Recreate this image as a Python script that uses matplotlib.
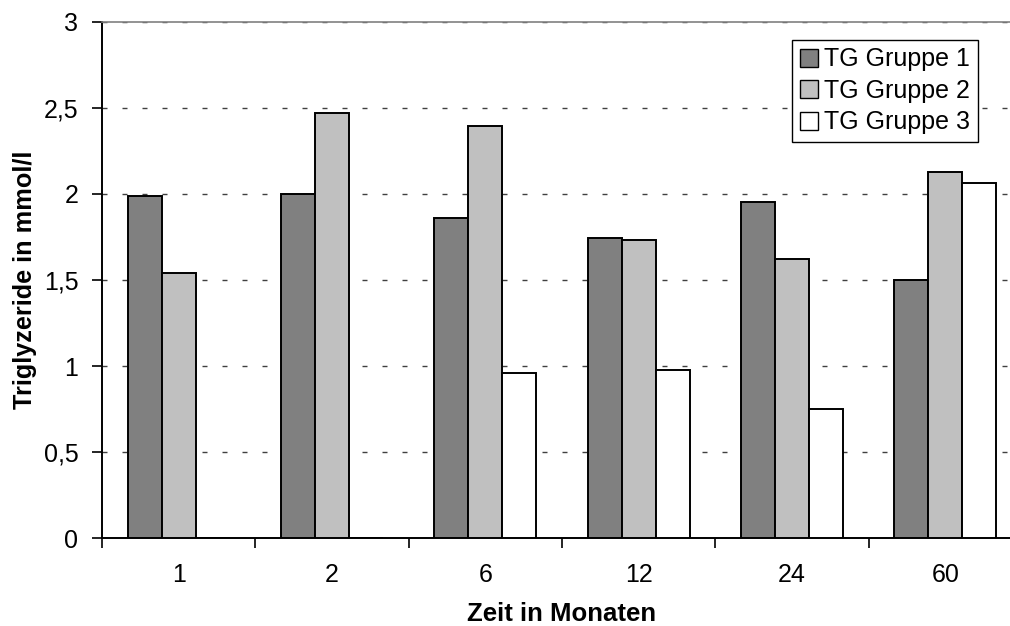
import numpy as np
import matplotlib
matplotlib.use("Agg")
import matplotlib.pyplot as plt
from matplotlib.ticker import FixedLocator, FuncFormatter

plt.rcParams['font.family'] = ['Liberation Sans', 'DejaVu Sans']

# Triglyceride per follow-up month
monate = ['1', '2', '6', '12', '24', '60']
gruppe1 = [1.99, 2.00, 1.86, 1.745, 1.955, 1.50]
gruppe2 = [1.54, 2.47, 2.395, 1.73, 1.62, 2.13]
gruppe3 = [0.0, 0.0, 0.96, 0.975, 0.75, 2.065]

namen = ['TG Gruppe 1', 'TG Gruppe 2', 'TG Gruppe 3']
farben = ['#808080', '#c0c0c0', '#ffffff']

fig = plt.figure(figsize=(10.10, 6.26), dpi=100)
# plot area runs a little past the right edge of the figure
ax = fig.add_axes([102 / 1010, 88 / 626, 920 / 1010, 516 / 626])

x = np.arange(len(monate)) + 0.5
breite = 0.222
for i, (werte, name, farbe) in enumerate(zip([gruppe1, gruppe2, gruppe3], namen, farben)):
    ax.bar(x + (i - 1) * breite, werte, breite, color=farbe, edgecolor='black',
           linewidth=1.4, label=name, zorder=3)

ax.set_xlim(0, len(monate))
ax.set_ylim(0, 3)

ax.set_yticks(np.arange(0, 3.01, 0.5))
ax.yaxis.set_major_formatter(FuncFormatter(lambda v, p: ('%g' % v).replace('.', ',')))
ax.yaxis.grid(True, color='#404040', linestyle=(0, (3.6, 10.8)), linewidth=1.0, zorder=0)

ax.set_xticks(x)
ax.set_xticklabels(monate)
ax.xaxis.set_minor_locator(FixedLocator(np.arange(0, len(monate) + 1)))
ax.tick_params(axis='x', which='major', length=0, pad=18, labelsize=18)
ax.tick_params(axis='x', which='minor', length=7, width=1.2, direction='out')
ax.tick_params(axis='y', which='major', length=7, width=1.2, direction='out', pad=10, labelsize=18)

for side in ['left', 'bottom']:
    ax.spines[side].set_color('black')
    ax.spines[side].set_linewidth(1.4)
ax.spines['top'].set_color('#808080')
ax.spines['top'].set_linewidth(1.2)
ax.spines['right'].set_visible(False)

ax.set_xlabel('Zeit in Monaten', fontsize=18.5, fontweight='bold', labelpad=11)
ax.set_ylabel('Triglyzeride in mmol/l', fontsize=18.2, fontweight='bold', labelpad=5)

leg = ax.legend(loc='upper left', bbox_to_anchor=(690 / 920, 1 - 18 / 516), fontsize=18,
                frameon=True, fancybox=False, framealpha=1, edgecolor='black',
                handlelength=0.75, handleheight=0.75, handletextpad=0.25,
                borderpad=0.3, labelspacing=0.3, borderaxespad=0)
leg.get_frame().set_linewidth(1.0)
for h in leg.legend_handles:
    h.set_linewidth(1.0)

fig.savefig('out.png', dpi=100)
